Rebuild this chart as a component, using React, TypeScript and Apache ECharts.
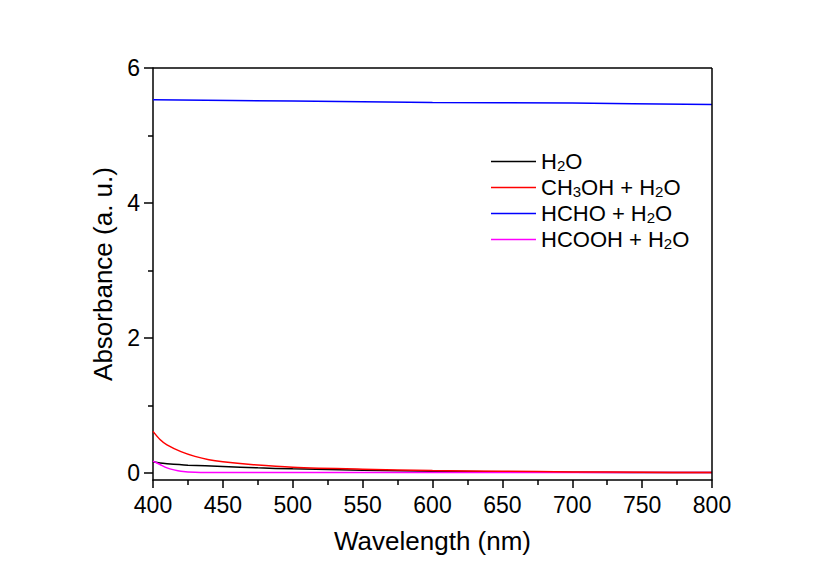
import React, { useEffect, useRef } from "react";
import * as echarts from "echarts";

const seriesNames = ["H2O", "CH3OH + H2O", "HCHO + H2O", "HCOOH + H2O"];
const legendRich = ["H{s|2}O", "CH{s|3}OH + H{s|2}O", "HCHO + H{s|2}O", "HCOOH + H{s|2}O"];
const colors = ["#000000", "#ff0000", "#0000ff", "#ff00ff"];

const h2o: [number, number][] = [
  [400, 0.17], [405, 0.15], [410, 0.14], [425, 0.12], [450, 0.1], [475, 0.08],
  [500, 0.065], [550, 0.045], [600, 0.03], [650, 0.02], [700, 0.015], [800, 0.01],
];
const ch3oh: [number, number][] = [
  [400, 0.62], [405, 0.5], [410, 0.42], [420, 0.32], [430, 0.25], [440, 0.2],
  [450, 0.17], [470, 0.13], [500, 0.09], [550, 0.06], [600, 0.04], [650, 0.03],
  [700, 0.02], [750, 0.015], [800, 0.01],
];
const hcho: [number, number][] = [
  [400, 5.53], [500, 5.51], [600, 5.49], [700, 5.48], [800, 5.46],
];
const hcooh: [number, number][] = [
  [400, 0.18], [405, 0.13], [410, 0.08], [415, 0.05], [420, 0.03], [430, 0.015],
  [450, 0.01], [500, 0.01], [600, 0.01], [800, 0.01],
];
const allData = [h2o, ch3oh, hcho, hcooh];
const yMajor = [0, 2, 4, 6];
const yMinor = [1, 3, 5];

const FONT = "Liberation Sans, Arial, sans-serif";

export default function App() {
  const ref = useRef<HTMLDivElement>(null);
  useEffect(() => {
    const chart = echarts.init(ref.current!, null, { renderer: "svg" });
    chart.setOption({
      animation: false,
      backgroundColor: "#ffffff",
      grid: { left: 153, right: 102, top: 68, bottom: 87 },
      legend: {
        orient: "vertical",
        left: 486,
        top: 145,
        icon: "rect",
        itemWidth: 45,
        itemHeight: 1.5,
        itemGap: 3,
        itemTextGap: 9,
        data: seriesNames,
        formatter: (name: string) => legendRich[seriesNames.indexOf(name)],
        textStyle: {
          fontFamily: FONT,
          fontSize: 22,
          color: "#000",
          lineHeight: 23,
          rich: {
            s: { fontSize: 15, fontFamily: FONT, color: "#000", verticalAlign: "bottom", lineHeight: 23, padding: [5, 0, 0, 0] },
          },
        },
      },
      xAxis: {
        type: "value",
        min: 400,
        max: 800,
        interval: 50,
        name: "Wavelength (nm)",
        nameLocation: "middle",
        nameGap: 48,
        nameTextStyle: { fontFamily: FONT, fontSize: 26, color: "#000" },
        axisLine: { show: true, onZero: false, lineStyle: { color: "#000", width: 1.5 } },
        axisTick: { show: true, inside: false, length: 8, lineStyle: { color: "#000", width: 1.5 } },
        minorTick: { show: true, splitNumber: 2, length: 5, lineStyle: { color: "#000", width: 1.5 } },
        axisLabel: { fontFamily: FONT, fontSize: 23, color: "#000", margin: 13 },
        splitLine: { show: false },
      },
      yAxis: {
        type: "value",
        min: -0.1,
        max: 6,
        name: "Absorbance (a. u.)",
        nameLocation: "middle",
        nameGap: 36,
        nameTextStyle: { fontFamily: FONT, fontSize: 26, color: "#000" },
        axisLine: { show: true, onZero: false, lineStyle: { color: "#000", width: 1.5 } },
        axisTick: { show: true, inside: false, length: 9, lineStyle: { color: "#000", width: 1.5 }, customValues: yMajor },
        minorTick: { show: false },
        axisLabel: { fontFamily: FONT, fontSize: 23, color: "#000", margin: 13, customValues: yMajor },
        splitLine: { show: false },
      },
      series: [
        ...allData.map((d, i) => ({
          name: seriesNames[i],
          type: "line",
          data: d,
          smooth: 0.3,
          showSymbol: false,
          symbol: "none",
          lineStyle: { color: colors[i], width: 1.5 },
          itemStyle: { color: colors[i] },
          z: i === 1 ? 3 : 2,
        })),
        {
          type: "line",
          data: [],
          silent: true,
          markLine: {
            silent: true,
            symbol: "none",
            label: { show: false },
            lineStyle: { color: "#000", width: 1.5, type: "solid" },
            data: [
              [{ coord: [400, 6] }, { coord: [800, 6] }],
              [{ coord: [800, -0.1] }, { coord: [800, 6] }],
            ],
          },
        },
        {
          type: "line",
          data: [],
          silent: true,
          markLine: {
            silent: true,
            symbol: "none",
            label: { show: false },
            lineStyle: { color: "#000", width: 1.5, type: "solid" },
            data: yMinor.map((v) => [
              { coord: [400, v], x: 148 } as any,
              { coord: [400, v] },
            ]),
          },
        },
      ],
    });
    return () => chart.dispose();
  }, []);
  return <div ref={ref} style={{ width: 814, height: 567, position: "absolute", left: 0, top: 0 }} />;
}
